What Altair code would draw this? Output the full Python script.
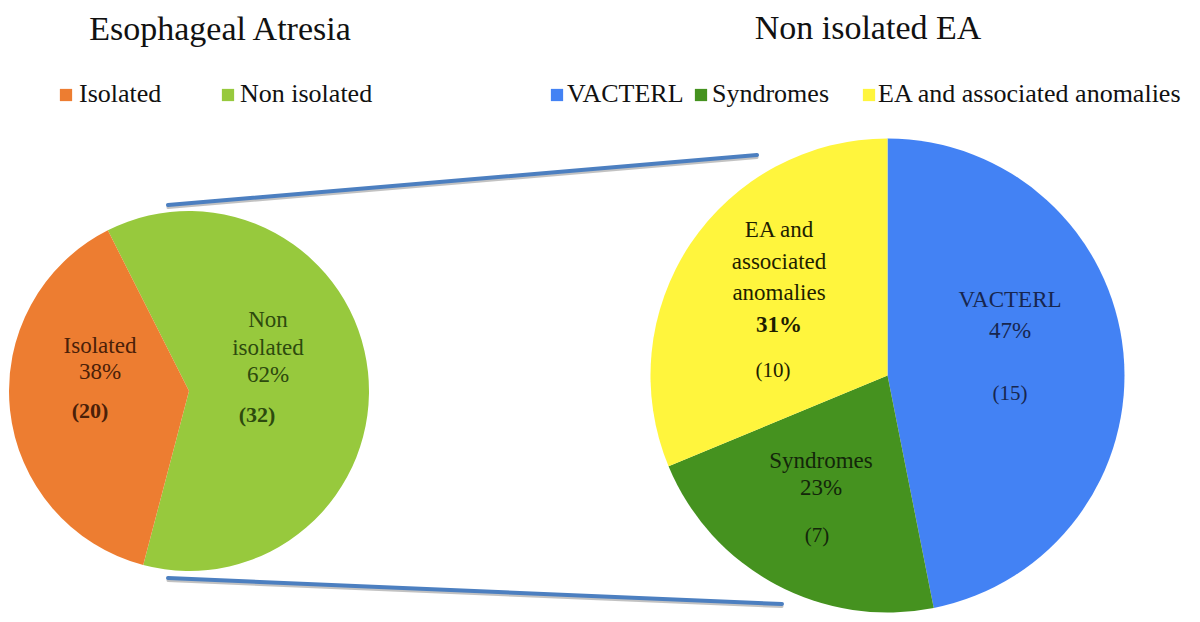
import math
import altair as alt
import pandas as pd

# ---------------- data ----------------
left_title = "Esophageal Atresia"
left_categories = ["Non isolated", "Isolated"]
left_label_lines = [["Non", "isolated"], ["Isolated"]]
left_counts = [32, 20]
left_percents = [62, 38]
left_colors = ["#97C93D", "#ED7D31"]

right_title = "Non isolated EA"
right_categories = ["VACTERL", "Syndromes", "EA and associated anomalies"]
right_label_lines = [["VACTERL"], ["Syndromes"], ["EA and", "associated", "anomalies"]]
right_counts = [15, 7, 10]
right_percents = [47, 23, 31]
right_colors = ["#4382F4", "#45921F", "#FFF53D"]

legend_left_order = ["Isolated", "Non isolated"]

# ---------------- layout (page pixels) ----------------
OFF = 8
W, H = 1184, 606
FONT = "Liberation Serif"


def p(v):
    return v - OFF


LEFT_C, LEFT_R, LEFT_START = (189, 391), 180, math.radians(333.2)
RIGHT_C, RIGHT_R, RIGHT_START = (887.5, 375.5), 237, 0.0

# per slice: text x, first baseline, line height, count x, count y
left_layout = [(268, 327, 27.5, 257, 422), (100, 353, 26, 90, 418)]
right_layout = [(1010, 307, 31, 1010, 400), (821, 468, 27, 817, 542), (779, 237, 31.7, 773, 377)]
left_text_colors = ["#2D4A0E", "#4A2008"]
right_text_colors = ["#17264F", "#13260A", "#1E1E00"]


def pie(cats, counts, colors, center, radius, start):
    df = pd.DataFrame({"cat": cats, "count": counts, "ord": list(range(len(cats)))})
    return alt.Chart(df).mark_arc(radius=radius).encode(
        theta=alt.Theta("count:Q", stack=True,
                        scale=alt.Scale(range=[start, start + 2 * math.pi])),
        color=alt.Color("cat:N", scale=alt.Scale(domain=cats, range=colors), legend=None),
        order=alt.Order("ord:Q"),
        x=alt.value(p(center[0])),
        y=alt.value(p(center[1])),
    )


rows = []
for lines_list, percents, counts, layout, tcols, size, csize, bold_counts, bold_pct in [
    (left_label_lines, left_percents, left_counts, left_layout, left_text_colors, 23, 22, True, []),
    (right_label_lines, right_percents, right_counts, right_layout, right_text_colors, 23, 21, False, [31]),
]:
    for lines, pc, cnt, (tx, ty, lh, cx, cy), tc in zip(lines_list, percents, counts, layout, tcols):
        allines = lines + [f"{pc}%"]
        for i, t in enumerate(allines):
            rows.append({"t": t, "x": p(tx), "y": p(ty + i * lh), "c": tc, "s": size,
                         "b": 1 if (i == len(allines) - 1 and pc in bold_pct) else 0})
        rows.append({"t": f"({cnt})", "x": p(cx), "y": p(cy), "c": tc, "s": csize,
                     "b": 1 if bold_counts else 0})
labels_df = pd.DataFrame(rows)


def text_layer(df, weight):
    return alt.Chart(df).mark_text(font=FONT, baseline="alphabetic", align="center",
                                   fontWeight=weight).encode(
        x=alt.X("x:Q", scale=None, axis=None),
        y=alt.Y("y:Q", scale=None, axis=None),
        text="t:N",
        color=alt.Color("c:N", scale=None),
        size=alt.Size("s:Q", scale=None, legend=None),
    )


labels_normal = text_layer(labels_df[labels_df.b == 0], "normal")
labels_bold = text_layer(labels_df[labels_df.b == 1], "bold")

# connectors
conn_df = pd.DataFrame({
    "x": [p(168), p(168)], "y": [p(205), p(578)],
    "x2": [p(757), p(782)], "y2": [p(155), p(604)],
})
conn_enc = dict(
    x=alt.X("x:Q", scale=None, axis=None), y=alt.Y("y:Q", scale=None, axis=None),
    x2="x2:Q", y2="y2:Q",
)
shadow_df = conn_df.assign(y=conn_df.y + 2.5, y2=conn_df.y2 + 2.5)
conn_shadow = alt.Chart(shadow_df).mark_rule(strokeWidth=3, color="#A8A8A8", opacity=0.7,
                                             strokeCap="round").encode(**conn_enc)
conn = alt.Chart(conn_df).mark_rule(strokeWidth=4, color="#4C7FC0",
                                    strokeCap="round").encode(**conn_enc)

# titles
titles_df = pd.DataFrame({"t": [left_title, right_title],
                          "x": [p(220), p(868)], "y": [p(40), p(39)]})
titles = alt.Chart(titles_df).mark_text(font=FONT, fontSize=34, baseline="alphabetic",
                                        align="center", color="#111111").encode(
    x=alt.X("x:Q", scale=None, axis=None), y=alt.Y("y:Q", scale=None, axis=None), text="t:N")

# legends
lcol = dict(zip(left_categories, left_colors))
rcol = dict(zip(right_categories, right_colors))
leg_rows = []
for cat, sx, tx in zip(legend_left_order, [66, 228], [79, 240]):
    leg_rows.append({"t": cat, "c": lcol[cat], "sx": p(sx), "tx": p(tx), "y": p(102)})
for cat, sx, tx in zip(right_categories, [557, 701, 869], [567, 712, 878]):
    leg_rows.append({"t": cat, "c": rcol[cat], "sx": p(sx), "tx": p(tx), "y": p(102)})
leg_df = pd.DataFrame(leg_rows)
leg_sq = alt.Chart(leg_df).mark_square(size=150, opacity=1, yOffset=-7).encode(
    x=alt.X("sx:Q", scale=None, axis=None), y=alt.Y("y:Q", scale=None, axis=None),
    color=alt.Color("c:N", scale=None))
leg_tx = alt.Chart(leg_df).mark_text(font=FONT, fontSize=26, baseline="alphabetic",
                                     align="left", color="#111111").encode(
    x=alt.X("tx:Q", scale=None, axis=None), y=alt.Y("y:Q", scale=None, axis=None), text="t:N")

chart = alt.layer(
    conn_shadow, conn,
    pie(left_categories, left_counts, left_colors, LEFT_C, LEFT_R, LEFT_START),
    pie(right_categories, right_counts, right_colors, RIGHT_C, RIGHT_R, RIGHT_START),
    labels_normal, labels_bold, titles, leg_sq, leg_tx,
).resolve_scale(theta="independent", color="independent").properties(
    width=W, height=H, padding=0, autosize="none", background="white"
).configure_view(stroke=None)

chart.save("out.html", embed_options={"renderer": "svg", "actions": False})
